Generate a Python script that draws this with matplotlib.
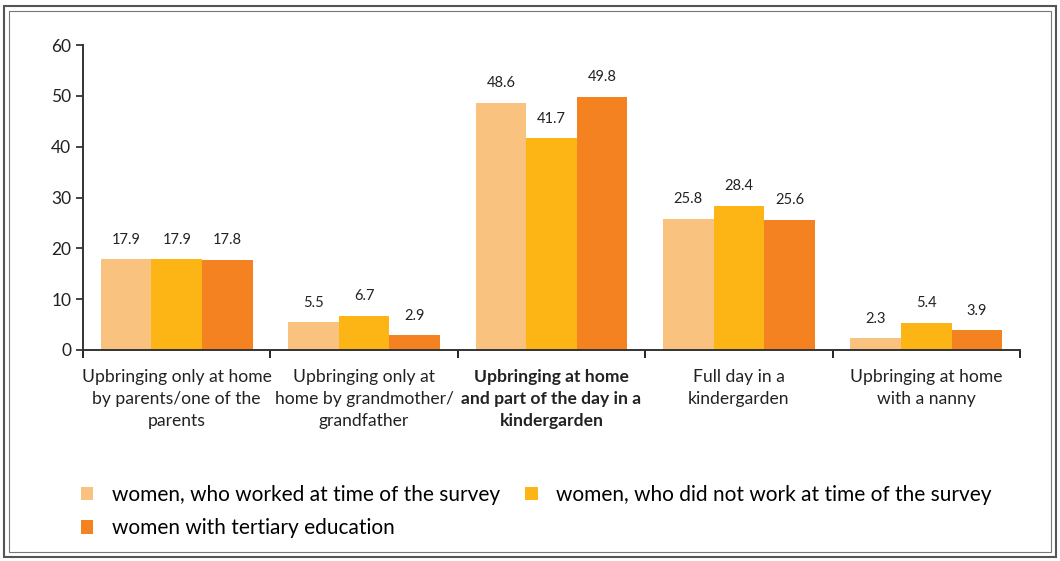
import matplotlib.pyplot as plt
from matplotlib.patches import Rectangle
import numpy as np

# Data
categories = [
    "Upbringing only at home\nby parents/one of the\nparents",
    "Upbringing only at\nhome by grandmother/\ngrandfather",
    "Upbringing at home\nand part of the day in a\nkindergarden",
    "Full day in a\nkindergarden",
    "Upbringing at home\nwith a nanny",
]
worked = [17.9, 5.5, 48.6, 25.8, 2.3]
not_worked = [17.9, 6.7, 41.7, 28.4, 5.4]
tertiary = [17.8, 2.9, 49.8, 25.6, 3.9]
series_names = [
    "women, who worked at time of the survey",
    "women, who did not work at time of the survey",
    "women with tertiary education",
]
colors = ["#F9C27F", "#FDB515", "#F58220"]
y_ticks = [0, 10, 20, 30, 40, 50, 60]

plt.rcParams['font.family'] = ['Lato', 'DejaVu Sans']

fig = plt.figure(figsize=(10.6, 5.61), dpi=100)
W, H = 1060, 561
ax = fig.add_axes([83 / W, 1 - 350 / H, (1020 - 83) / W, (350 - 45) / H])

x = np.arange(len(categories)) + 0.5
bw = 0.27
bars = []
for i, (vals, col, name) in enumerate(zip([worked, not_worked, tertiary], colors, series_names)):
    b = ax.bar(x + (i - 1) * bw, vals, bw, color=col, label=name)
    ax.bar_label(b, labels=[f"{v:.1f}" for v in vals], padding=9, fontsize=10.5, color="#222222")
    bars.append(b)

ax.set_xlim(0, 5)
ax.set_ylim(0, 60)
ax.set_yticks(y_ticks)
ax.tick_params(axis="y", labelsize=12.5, length=5, width=1.2, colors="#222222")
ax.set_xticks(np.arange(0, 6))
ax.set_xticklabels([])
ax.tick_params(axis="x", which="major", length=6, width=1.2, direction="out")
ax.set_xticks(x, minor=True)
ax.set_xticklabels(categories, minor=True, fontsize=12.6, color="#222222", linespacing=1.45)
ax.tick_params(axis="x", which="minor", length=0, pad=14)
ax.get_xticklabels(minor=True)[2].set_fontweight("bold")

for s in ["top", "right"]:
    ax.spines[s].set_visible(False)
for s in ["left", "bottom"]:
    ax.spines[s].set_linewidth(1.4)
    ax.spines[s].set_color("#333333")

handles = [bars[0], bars[2], bars[1]]
labels = [series_names[0], series_names[2], series_names[1]]
fig.legend(handles, labels, ncol=2, loc="upper left", bbox_to_anchor=(62 / W, 1 - 466 / H),
           frameon=False, fontsize=15, handlelength=0.6, handleheight=0.6,
           columnspacing=1.2, labelspacing=0.65, handletextpad=0.9)

# double frame around the figure
fig.patches.append(Rectangle((4 / W, 4 / H), 1052 / W, 551 / H, transform=fig.transFigure,
                             fill=False, edgecolor="#555555", linewidth=1.5))
fig.patches.append(Rectangle((9 / W, 9 / H), 1042 / W, 541 / H, transform=fig.transFigure,
                             fill=False, edgecolor="#777777", linewidth=0.8))

fig.savefig("out.png", dpi=100)
